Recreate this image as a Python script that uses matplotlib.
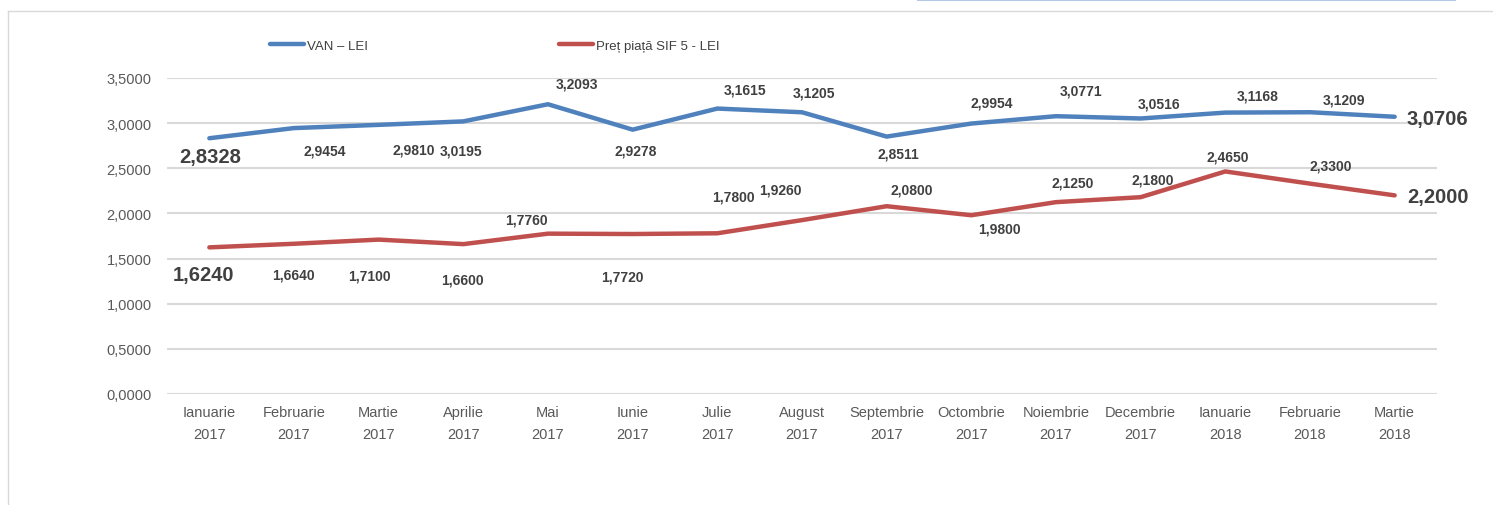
import matplotlib.pyplot as plt
from matplotlib.lines import Line2D
from matplotlib.ticker import FuncFormatter

# data
luni = ['Ianuarie\n2017', 'Februarie\n2017', 'Martie\n2017', 'Aprilie\n2017', 'Mai\n2017',
        'Iunie\n2017', 'Julie\n2017', 'August\n2017', 'Septembrie\n2017', 'Octombrie\n2017',
        'Noiembrie\n2017', 'Decembrie\n2017', 'Ianuarie\n2018', 'Februarie\n2018', 'Martie\n2018']
van = [2.8328, 2.9454, 2.9810, 3.0195, 3.2093, 2.9278, 3.1615, 3.1205,
       2.8511, 2.9954, 3.0771, 3.0516, 3.1168, 3.1209, 3.0706]
pret = [1.6240, 1.6640, 1.7100, 1.6600, 1.7760, 1.7720, 1.7800, 1.9260,
        2.0800, 1.9800, 2.1250, 2.1800, 2.4650, 2.3300, 2.2000]

# label offsets in pixels (dx, dy)
off_van = [(1, -18), (31, -22), (35, -25), (-2, -29), (29, 21), (3, -21), (28, 19), (12, 20),
           (12, -17), (20, 21), (25, 26), (18, 15), (32, 17), (34, 13), (12, -2)]
off_pret = [(-6, -27), (-1, -31), (-9, -36), (-1, -35), (-22, 14), (-10, -42), (16, 37), (-22, 31),
            (25, 17), (28, -13), (17, 20), (12, 18), (2, 15), (21, 18), (13, -1)]

plt.rcParams['font.family'] = ['Liberation Sans', 'DejaVu Sans']

albastru = '#4F81BD'
rosu = '#C0504D'

fig = plt.figure(figsize=(14.93, 5.06), dpi=100)
ax = fig.add_axes([167 / 1493, 111 / 506, 1270 / 1493, 316 / 506])

x = range(len(luni))
ax.plot(x, van, color=albastru, lw=3.2, solid_capstyle='round', label='VAN – LEI')
ax.plot(x, pret, color=rosu, lw=3.2, solid_capstyle='round', label='Preț piață SIF 5 - LEI')

def eticheta(vals, offs):
    for i, (v, o) in enumerate(zip(vals, offs)):
        txt = f'{v:.4f}'.replace('.', ',')
        mare = i == 0 or i == len(vals) - 1
        ha = 'left' if i == len(vals) - 1 else 'center'
        ax.annotate(txt, (i, v), xytext=o, textcoords='offset pixels', ha=ha, va='center',
                    fontsize=14.5 if mare else 10, fontweight='bold', color='#404040')

eticheta(van, off_van)
eticheta(pret, off_pret)

ax.set_xlim(-0.5, 14.5)
ax.set_ylim(0, 3.5)
ax.set_yticks([0, 0.5, 1, 1.5, 2, 2.5, 3, 3.5])
ax.yaxis.set_major_formatter(FuncFormatter(lambda v, p: f'{v:.4f}'.replace('.', ',')))
ax.set_xticks(list(x))
ax.set_xticklabels(luni, linespacing=1.75)
ax.tick_params(length=0, labelsize=10.5, labelcolor='#595959')
ax.tick_params(axis='y', pad=11)
ax.tick_params(axis='x', pad=8)
ax.grid(axis='y', color='#D9D9D9', lw=1.5)
ax.set_axisbelow(True)
for s in ax.spines.values():
    s.set_visible(False)

fig.legend(loc='upper left', bbox_to_anchor=(258 / 1493, 1 - 29 / 506), ncol=2, frameon=False,
           fontsize=9.5, handlelength=2.6, handletextpad=0.2, columnspacing=14.5,
           labelcolor='#404040')

# chenar
fig.add_artist(Line2D([8 / 1493, 1], [1 - 12 / 506] * 2, color='#D9D9D9', lw=1))
fig.add_artist(Line2D([8 / 1493] * 2, [0, 1 - 12 / 506], color='#D9D9D9', lw=1))
fig.add_artist(Line2D([918 / 1493, 1455 / 1493], [1 - 1 / 506] * 2, color='#B4C7E7', lw=1.5))

fig.savefig('out.png', dpi=100)
